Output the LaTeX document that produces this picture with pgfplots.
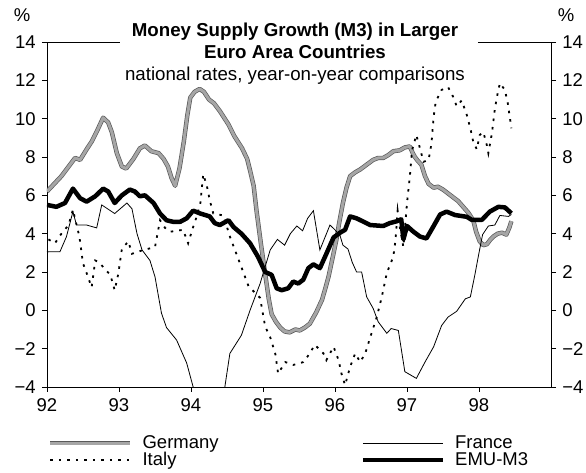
\documentclass[border=0pt]{standalone}
\usepackage{fontspec}
\setmainfont{Liberation Sans}
\usepackage{pgfplots}
\pgfplotsset{compat=1.18}

\pgfplotstableread{
x y
92.00 6.2
92.10 6.6
92.20 7.0
92.30 7.5
92.39 7.95
92.46 7.85
92.55 8.4
92.62 8.8
92.70 9.4
92.78 10.05
92.85 9.8
92.90 9.3
92.97 8.2
93.04 7.5
93.10 7.4
93.20 7.9
93.29 8.45
93.36 8.6
93.45 8.3
93.55 8.2
93.62 7.9
93.68 7.5
93.73 6.9
93.78 6.5
93.84 7.4
93.90 8.8
93.95 10.2
93.99 11.1
94.05 11.4
94.12 11.55
94.18 11.4
94.25 11.0
94.32 10.8
94.40 10.4
94.52 9.7
94.60 9.1
94.71 8.45
94.78 7.9
94.82 7.3
94.87 6.5
94.91 5.2
94.97 3.5
95.03 1.9
95.08 0.6
95.12 -0.2
95.18 -0.6
95.24 -0.9
95.30 -1.1
95.37 -1.15
95.45 -1.0
95.51 -1.05
95.58 -0.9
95.65 -0.7
95.74 -0.1
95.82 0.55
95.87 1.2
95.91 1.75
95.97 2.8
96.02 3.7
96.06 4.6
96.11 5.6
96.16 6.4
96.21 7.0
96.28 7.2
96.35 7.35
96.44 7.6
96.53 7.85
96.60 7.95
96.67 7.95
96.74 8.1
96.81 8.3
96.90 8.35
96.97 8.5
97.04 8.55
97.08 8.2
97.11 8.0
97.15 7.8
97.20 7.6
97.25 7.0
97.30 6.6
97.37 6.4
97.43 6.45
97.50 6.3
97.57 6.1
97.64 5.9
97.71 5.7
97.78 5.4
97.85 5.1
97.92 4.7
97.96 4.1
98.01 3.6
98.06 3.4
98.11 3.45
98.16 3.7
98.20 3.85
98.26 4.0
98.32 4.05
98.38 3.95
98.42 4.3
98.45 4.65
}\germany

\pgfplotstableread{
x y
92.00 3.05
92.18 3.06
92.27 3.84
92.36 5.15
92.41 4.45
92.55 4.45
92.69 4.3
92.76 5.5
92.94 5.05
93.11 5.6
93.18 5.3
93.25 4.0
93.32 3.15
93.43 2.6
93.50 1.75
93.59 -0.15
93.66 -0.9
93.80 -1.55
93.94 -2.75
94.03 -4.0
94.15 -5.5
94.30 -6.2
94.42 -5.2
94.47 -4.0
94.54 -2.25
94.70 -1.3
94.82 0.0
94.96 1.4
95.10 3.15
95.20 3.7
95.30 3.4
95.38 4.0
95.47 4.4
95.55 4.15
95.62 4.8
95.70 5.2
95.79 3.15
95.93 4.45
96.00 4.2
96.07 3.9
96.11 3.4
96.18 3.2
96.24 2.5
96.30 2.0
96.37 2.0
96.44 0.7
96.53 0.1
96.60 -0.6
96.72 -1.2
96.78 -0.95
96.88 -1.05
96.97 -3.2
97.13 -3.55
97.25 -2.7
97.37 -1.9
97.48 -0.8
97.57 -0.35
97.69 -0.05
97.81 0.6
97.88 0.7
97.94 1.8
98.00 3.0
98.05 3.95
98.13 4.4
98.22 4.45
98.29 4.95
98.41 4.9
98.45 5.0
}\france

\pgfplotstableread{
x y
92.02 3.7
92.11 3.5
92.20 4.0
92.30 4.45
92.36 5.25
92.45 3.85
92.50 2.45
92.55 1.95
92.62 1.2
92.67 2.6
92.73 2.5
92.78 2.25
92.88 1.85
92.94 1.05
92.99 1.9
93.04 3.2
93.13 3.6
93.18 2.95
93.34 3.15
93.50 3.3
93.57 4.7
93.64 4.3
93.71 4.1
93.80 4.15
93.89 4.2
93.96 3.5
94.03 4.35
94.08 4.9
94.13 5.6
94.17 7.1
94.22 6.5
94.26 5.75
94.31 5.05
94.45 4.95
94.54 3.85
94.68 2.45
94.80 1.25
94.96 0.65
95.03 -0.85
95.10 -1.4
95.17 -2.25
95.21 -3.3
95.31 -2.7
95.42 -2.85
95.56 -2.7
95.64 -2.3
95.72 -1.8
95.84 -2.25
95.88 -2.6
95.98 -1.9
96.05 -2.6
96.09 -3.3
96.14 -3.9
96.21 -2.95
96.28 -2.25
96.35 -2.7
96.42 -2.25
96.49 -1.4
96.58 -0.35
96.65 0.7
96.72 1.95
96.81 2.8
96.84 3.65
96.87 5.2
96.90 4.35
96.95 3.3
97.00 5.6
97.04 7.0
97.07 8.35
97.13 9.15
97.18 8.45
97.23 7.75
97.30 7.85
97.34 8.7
97.37 10.1
97.40 10.9
97.48 11.5
97.57 11.65
97.64 11.15
97.69 10.65
97.76 10.95
97.83 10.2
97.88 9.5
97.92 8.8
97.97 8.4
98.01 9.15
98.06 9.3
98.11 8.6
98.13 8.2
98.18 9.25
98.22 10.5
98.25 11.15
98.29 11.85
98.36 11.5
98.40 10.8
98.45 9.5
}\italy

\pgfplotstableread{
x y
92.00 5.5
92.13 5.4
92.25 5.6
92.36 6.35
92.46 5.85
92.55 5.67
92.67 5.95
92.78 6.35
92.85 6.2
92.94 5.6
93.04 6.0
93.15 6.3
93.22 6.2
93.29 5.95
93.36 6.0
93.48 5.6
93.57 5.05
93.66 4.7
93.75 4.62
93.85 4.62
93.94 4.8
94.03 5.2
94.13 5.05
94.26 4.9
94.33 4.55
94.40 4.45
94.52 4.7
94.59 4.35
94.70 4.0
94.82 3.5
94.93 2.8
95.03 2.0
95.12 1.85
95.19 1.15
95.26 1.05
95.35 1.15
95.42 1.5
95.49 1.4
95.56 1.6
95.63 2.2
95.70 2.4
95.79 2.2
95.88 2.95
95.98 3.8
96.07 4.05
96.14 4.2
96.21 4.9
96.30 4.8
96.49 4.45
96.67 4.4
96.76 4.55
96.86 4.65
96.92 4.75
96.95 3.7
97.00 4.4
97.09 4.1
97.18 3.85
97.27 3.75
97.37 4.4
97.46 5.0
97.55 5.15
97.67 4.97
97.83 4.88
97.90 4.72
98.04 4.72
98.15 5.15
98.27 5.4
98.36 5.37
98.45 5.06
}\emu

\begin{document}
\fontsize{18.5}{21}\selectfont
\begin{tikzpicture}
\begin{axis}[
  width=504pt, height=345pt, scale only axis,
  xmin=92, xmax=99, ymin=-4, ymax=14,
  axis x line*=bottom, axis y line*=left,
  xtick={92,93,94,95,96,97,98},
  xticklabels={92,93,94,95,96,97,98},
  ytick={-4,-2,0,2,4,6,8,10,12,14},
  yticklabels={−4,−2,0,2,4,6,8,10,12,14},
  tick align=outside, major tick length=5pt,
  tick style={black, line width=0.6pt},
  axis line style={black, line width=0.8pt},
  clip mode=individual,
  legend columns=2,
  legend image code/.code={\draw[#1] (0pt,0pt) -- (80pt,0pt);},
  legend style={draw=none, fill=none, at={(rel axis cs:-0.004,-0.128)}, anchor=north west,
    font=\fontsize{18.5}{21}\selectfont, row sep=-3pt,
    /tikz/every odd column/.append style={column sep=8pt},
    /tikz/every even column/.append style={column sep=140pt}},
  legend cell align=left,
]
\addplot[draw=black!65, line width=0.7pt, double=black!35, double distance=3pt, line join=round] table {\germany};
\addlegendentry{Germany}
\addplot[black, line width=0.8pt] table {\france};
\addlegendentry{France}
\addplot[black, line width=1.8pt, dash pattern=on 2.5pt off 6pt] table {\italy};
\addlegendentry{Italy}
\addplot[black, line width=4.5pt, line join=round] table {\emu};
\addlegendentry{EMU-M3}
\draw[black, line width=0.8pt] (rel axis cs:0,1) -- (rel axis cs:0.145,1);
\draw[black, line width=0.8pt] (rel axis cs:0.855,1) -- (rel axis cs:1,1);
\node[anchor=north, align=center, inner sep=0pt, font=\fontsize{18.7}{22}\selectfont] at (rel axis cs:0.492,1.056)
  {\textbf{Money Supply Growth (M3) in Larger}\\\textbf{Euro Area Countries}\\national rates, year-on-year comparisons};
\node at (rel axis cs:-0.0496,1.078) {\%};
\node at (rel axis cs:1.03,1.078) {\%};
\end{axis}
\begin{axis}[
  width=504pt, height=345pt, scale only axis,
  xmin=92, xmax=99, ymin=-4, ymax=14,
  hide x axis, axis y line*=right,
  ytick={-4,-2,0,2,4,6,8,10,12,14},
  yticklabels={−4,−2,0,2,4,6,8,10,12,14},
  tick align=outside, major tick length=5pt,
  tick style={black, line width=0.6pt},
  axis line style={black, line width=0.8pt},
]
\end{axis}
\pgfresetboundingbox
\useasboundingbox (-47pt,-86pt) rectangle (539pt,387pt);
\end{tikzpicture}
\end{document}
